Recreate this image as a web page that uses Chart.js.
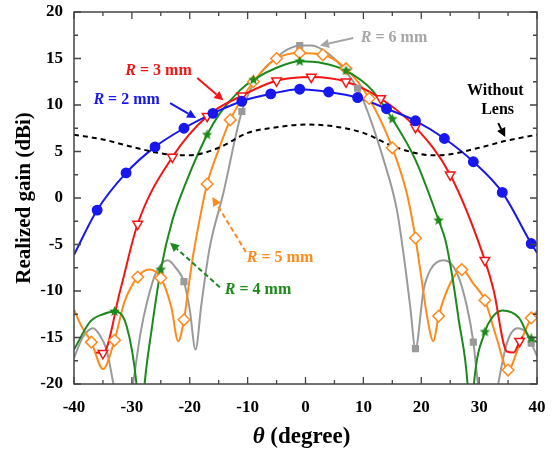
<!DOCTYPE html>
<html>
<head>
<meta charset="utf-8">
<script src="https://cdn.jsdelivr.net/npm/chart.js@4.4.0/dist/chart.umd.min.js"></script>
<style>
html,body{margin:0;padding:0;background:#fff;}
#wrap{width:555px;height:456px;}
</style>
</head>
<body>
<div id="wrap"><canvas id="gc" width="555" height="456"></canvas></div>
<script>
// realized gain vs angle
const angR2=[-40,-36,-31,-26,-21,-16,-11,-6,-1,4,9,14,19,24,29,34,39,40];
const gainR2=[-6.1,-1.3,2.7,5.5,7.5,9.1,10.4,11.2,11.7,11.4,10.8,9.6,8.3,6.4,3.9,0.6,-4.9,-5.9];
const markR2=[-36,-31,-26,-21,-16,-11,-6,-1,4,9,14,19,24,29,34,39];

const angR3=[-36.2,-35,-32,-29,-23,-17,-11,-5,1,7,13,19,25,31,32.5,34.8,36,37,37.5];
const gainR3=[-16.6,-16.7,-9.9,-2.8,4.4,8.8,11.0,12.6,13.0,12.5,10.7,7.6,2.5,-6.7,-9.9,-16.5,-16.6,-15.4,-14.9];
const markR3=[-35,-29,-23,-17,-11,-5,1,7,13,19,25,31,37];

const angR4=[-40,-37.2,-35,-33,-30.9,-29.2,-28.5,-27.8,-26.6,-25,-23,-20.5,-17,-14.8,-11.3,-9,-5,-1,3,7,11.5,15,19,23,24.2,25.3,26.5,28,28.5,29.1,31,32.3,34,36.9,38.6,39,40];
const gainR4=[-16.3,-13.3,-12.5,-12.2,-13.8,-20,-26,-20,-14.2,-7.7,-2.4,1.9,6.8,9.1,11.6,12.7,14.0,14.7,14.5,13.7,11.6,8.5,4.1,-2.4,-4.6,-8.2,-13.2,-20,-26,-20,-14.4,-12.8,-12.1,-12.9,-14.9,-15.1,-15.5];
const markR4=[-33,-25,-17,-9,-1,7,15,23,31,39];

const angR5=[-40,-38.7,-37,-35,-33,-31.3,-29,-27,-25,-23.2,-22,-21,-20.3,-19.5,-18.5,-17,-15,-13,-9,-5,-1,3,7,11,15,17.5,19,20,21,22.1,23,25,27,29,31,33,35,37,39,40];
const gainR5=[-12,-13.8,-15.5,-18.4,-15.3,-11.2,-8.5,-7.7,-8.6,-11.7,-15.4,-13.1,-10,-6.5,-3.0,1.5,5.2,8.4,12.5,15.0,15.6,15.4,13.9,10.7,5.4,0.5,-4.3,-8.5,-12.7,-15.4,-12.7,-9.2,-7.7,-9.2,-11,-15.0,-18.5,-15.7,-12.9,-12.2];
const markR5=[-37,-33,-29,-25,-21,-17,-13,-9,-5,-1,3,7,11,15,19,23,27,31,35,39];

const angR6=[-40,-38.5,-36.7,-35.5,-34.4,-33.2,-31.5,-29.8,-28.5,-27.3,-25.8,-23.8,-22.3,-21,-20,-19,-18,-16.6,-14.2,-11,-8,-5,-3,-1,1,4,7,9,10,13.5,15.8,17,18.1,19,20.4,21.6,23.9,26.2,27.9,29,29.8,31.5,33.3,34.8,36.6,38,39,40];
const gainR6=[-17.2,-15,-14,-14.8,-16.3,-20,-27,-20,-14.5,-11,-8,-6.7,-7.6,-9,-12,-16.3,-11.5,-5.5,0.5,9.3,13.2,15.1,16.0,16.4,16.4,15.5,13.6,11.8,10.5,4.1,-1.3,-6.3,-11.7,-16.2,-9.9,-7.7,-6.7,-8.1,-11.7,-15.5,-20,-27,-20,-15.6,-14,-14.4,-15.6,-17];
const markR6=[-21,-11,-1,9,19,29,39];

const angNL=[-40,-35,-30,-25,-22,-20,-15,-10,-5,0,5,10,15,20,22,25,30,35,40];
const gainNL=[6.8,6.3,5.5,4.8,4.6,4.6,5.4,7.0,7.6,7.9,7.7,7.0,5.6,4.7,4.6,4.7,5.4,6.2,6.8];

const xTicks=[-40,-30,-20,-10,0,10,20,30,40];
const yTicks=[-20,-15,-10,-5,0,5,10,15,20];

const C_BLUE='#1717ee', C_RED='#f41414', C_GREEN='#1b8a1b', C_ORANGE='#ff8a1c', C_GRAY='#9a9a9a';
const SERIF='"Liberation Serif", "DejaVu Serif", serif';

function pts(a,g){return a.map((v,i)=>({x:v,y:g[i]}));}
function marks(a,g,m){return m.map(v=>({x:v,y:g[a.indexOf(v)]}));}

function starImg(color,r){
  const s=Math.ceil(r*2)+2;
  const c=document.createElement('canvas');
  c.width=s;c.height=s;
  const g=c.getContext('2d');
  g.beginPath();
  for(let k=0;k<10;k++){
    const rr=k%2?r*0.45:r, a=-Math.PI/2+k*Math.PI/5;
    g.lineTo(s/2+rr*Math.cos(a),s/2+rr*Math.sin(a));
  }
  g.closePath();g.fillStyle=color;g.fill();
  return c;
}

function curve(a,g,color,dash){
  return {data:pts(a,g),borderColor:color,borderWidth:2,borderDash:dash||[],pointRadius:0,
    cubicInterpolationMode:'monotone',clip:0,order:10};
}
function markerSet(a,g,m,color,style,radius,fill,rot){
  return {data:marks(a,g,m),showLine:false,pointStyle:style,pointRadius:radius,pointRotation:rot||0,
    pointBackgroundColor:fill,pointBorderColor:color,pointBorderWidth:1.5,clip:0,order:1};
}

const datasets=[
  curve(angNL,gainNL,'#000',[5,4]),
  curve(angR2,gainR2,C_BLUE),
  curve(angR3,gainR3,C_RED),
  curve(angR4,gainR4,C_GREEN),
  curve(angR5,gainR5,C_ORANGE),
  curve(angR6,gainR6,C_GRAY),
  markerSet(angR2,gainR2,markR2,C_BLUE,'circle',4.7,C_BLUE),
  markerSet(angR3,gainR3,markR3,C_RED,'triangle',5.5,'#fff',180),
  markerSet(angR4,gainR4,markR4,C_GREEN,starImg(C_GREEN,5.5),5,C_GREEN),
  markerSet(angR5,gainR5,markR5,C_ORANGE,'rectRot',5.8,'#fff'),
  markerSet(angR6,gainR6,markR6,C_GRAY,'rect',4,C_GRAY)
];

// text labels and arrows, in data units
const notes=[
  {txt:['R',' = 3 mm'],x:-25.4,y:13.65,color:C_RED},
  {txt:['R',' = 2 mm'],x:-30.9,y:10.5,color:C_BLUE},
  {txt:['R',' = 6 mm'],x:15.3,y:17.2,color:'#a6a6a6'},
  {txt:['R',' = 5 mm'],x:-4.4,y:-6.4,color:C_ORANGE},
  {txt:['R',' = 4 mm'],x:-8.2,y:-9.9,color:C_GREEN},
  {txt:['','Without'],x:32.8,y:11.5,color:'#000'},
  {txt:['','Lens'],x:33.2,y:9.45,color:'#000'}
];
const arrows=[
  {from:[-18.7,12.9],to:[-14.2,10.5],color:C_RED},
  {from:[-23.4,10.2],to:[-18.9,8.6],color:C_BLUE},
  {from:[8.25,17.2],to:[2.5,16.4],color:'#a6a6a6'},
  {from:[33.3,8.05],to:[34.5,6.55],color:'#000'},
  {from:[-10.3,-5.8],to:[-16.1,0.1],color:C_ORANGE,dash:true},
  {from:[-14.8,-9.6],to:[-23.4,-4.8],color:C_GREEN,dash:true}
];

function drawMixed(ctx,parts,cx,cy,size){
  const fi='italic bold '+size+'px '+SERIF, fb='bold '+size+'px '+SERIF;
  ctx.font=fi;const w1=ctx.measureText(parts[0]).width;
  ctx.font=fb;const w2=ctx.measureText(parts[1]).width;
  let x=cx-(w1+w2)/2;
  ctx.textAlign='left';ctx.textBaseline='middle';
  ctx.font=fi;ctx.fillText(parts[0],x,cy);
  ctx.font=fb;ctx.fillText(parts[1],x+w1,cy);
}

const decor={
  id:'decor',
  afterDraw(chart){
    const {ctx,chartArea:a,scales:{x,y}}=chart;
    ctx.save();
    // frame
    ctx.strokeStyle='#444';ctx.lineWidth=1.5;
    ctx.strokeRect(a.left,a.top,a.right-a.left,a.bottom-a.top);
    // inward ticks on all four sides
    ctx.lineWidth=1.3;ctx.beginPath();
    for(let v=-40;v<=40;v+=5){
      const px=x.getPixelForValue(v), L=(v%10===0)?7:4;
      ctx.moveTo(px,a.bottom);ctx.lineTo(px,a.bottom-L);
      ctx.moveTo(px,a.top);ctx.lineTo(px,a.top+L);
    }
    for(let v=-20;v<=20;v+=2.5){
      const py=y.getPixelForValue(v), L=(v%5===0)?7:4;
      ctx.moveTo(a.left,py);ctx.lineTo(a.left+L,py);
      ctx.moveTo(a.right,py);ctx.lineTo(a.right-L,py);
    }
    ctx.stroke();
    // arrows
    arrows.forEach(r=>{
      const x1=x.getPixelForValue(r.from[0]),y1=y.getPixelForValue(r.from[1]);
      const x2=x.getPixelForValue(r.to[0]),y2=y.getPixelForValue(r.to[1]);
      const ang=Math.atan2(y2-y1,x2-x1), hl=9, hw=4.5;
      const bx=x2-hl*Math.cos(ang), by=y2-hl*Math.sin(ang);
      ctx.strokeStyle=r.color;ctx.fillStyle=r.color;ctx.lineWidth=2;
      ctx.setLineDash(r.dash?[5,3]:[]);
      ctx.beginPath();ctx.moveTo(x1,y1);ctx.lineTo(bx,by);ctx.stroke();
      ctx.setLineDash([]);
      ctx.beginPath();ctx.moveTo(x2,y2);
      ctx.lineTo(bx+hw*Math.sin(ang),by-hw*Math.cos(ang));
      ctx.lineTo(bx-hw*Math.sin(ang),by+hw*Math.cos(ang));
      ctx.closePath();ctx.fill();
    });
    // labels
    notes.forEach(n=>{
      ctx.fillStyle=n.color;
      drawMixed(ctx,n.txt,x.getPixelForValue(n.x),y.getPixelForValue(n.y),16);
    });
    // axis titles
    ctx.fillStyle='#000';
    drawMixed(ctx,['\u03b8',' (degree)'],(a.left+a.right)/2-4,437,23);
    ctx.translate(25,(a.top+a.bottom)/2);ctx.rotate(-Math.PI/2);
    ctx.font='bold 21px '+SERIF;ctx.textAlign='center';ctx.textBaseline='middle';
    ctx.fillText('Realized gain (dBi)',0,0);
    ctx.restore();
  }
};

new Chart(document.getElementById('gc'),{
  type:'line',
  data:{datasets},
  options:{
    responsive:false,
    animation:false,
    layout:{padding:{top:12,right:18,left:0,bottom:0}},
    plugins:{legend:{display:false},tooltip:{enabled:false}},
    scales:{
      x:{type:'linear',min:-40,max:40,
        afterBuildTicks:s=>{s.ticks=xTicks.map(v=>({value:v}));},
        afterFit:s=>{s.height=72;s.paddingLeft=0;s.paddingRight=0;},
        grid:{display:false,drawTicks:false},border:{display:false},
        ticks:{padding:13,color:'#000',maxRotation:0,font:{family:SERIF,weight:'bold',size:17}}},
      y:{type:'linear',min:-20,max:20,
        afterBuildTicks:s=>{s.ticks=yTicks.map(v=>({value:v}));},
        afterFit:s=>{s.width=74;s.paddingTop=0;s.paddingBottom=0;},
        grid:{display:false,drawTicks:false},border:{display:false},
        ticks:{padding:11,color:'#000',font:{family:SERIF,weight:'bold',size:17}}}
    }
  },
  plugins:[decor]
});
</script>
</body>
</html>
